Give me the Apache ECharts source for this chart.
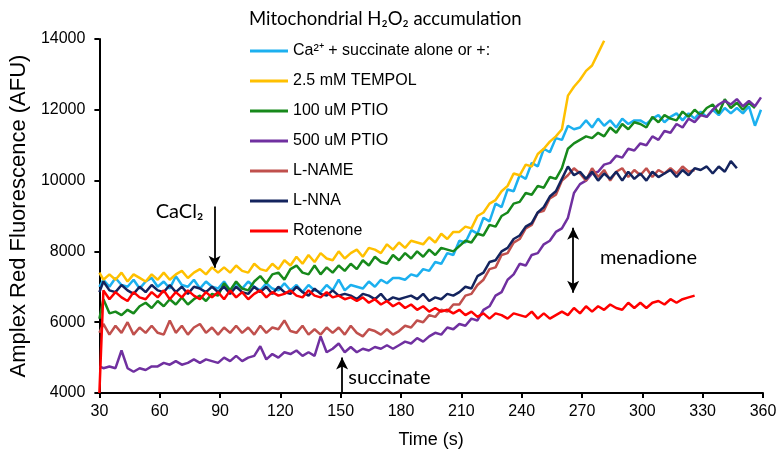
<!DOCTYPE html>
<html>
<head>
<meta charset="utf-8">
<script src="https://cdn.jsdelivr.net/npm/echarts@6.0.0/dist/echarts.min.js"></script>
<style>
  html, body { margin: 0; background: #fff; }
  #chart { width: 781px; height: 455px; }
</style>
</head>
<body>
<div id="chart"></div>
<script>
  // sampling times (s), shared by every trace
  const time = [
    30, 32, 35, 38, 41, 44, 47, 50, 53, 56,
    59, 62, 65, 68, 71, 74, 77, 80, 83, 86,
    89, 92, 95, 98, 101, 104, 107, 110, 113, 116,
    119, 122, 125, 128, 131, 134, 137, 140, 143, 146,
    149, 152, 155, 158, 161, 164, 167, 170, 173, 176,
    179, 182, 185, 188, 191, 194, 197, 200, 203, 206,
    209, 212, 215, 218, 221, 224, 227, 230, 233, 236,
    239, 242, 245, 248, 251, 254, 257, 260, 263, 266,
    269, 272, 275, 278, 281, 284, 287, 290, 293, 296,
    299, 302, 305, 308, 311, 314, 317, 320, 323, 326,
    329, 332, 335, 338, 341, 344, 347, 350, 353, 356,
    359
  ]

  // Amplex Red fluorescence (AFU)
  const caSuccinate = [
    7000, 7200, 7000, 7250, 7050, 7000, 7200, 6950, 7150, 7250,
    7000, 7150, 6950, 7300, 7050, 7000, 7200, 6950, 7150, 7000,
    6950, 7150, 6900, 7100, 6950, 7150, 7000, 6900, 7100, 6950,
    6900, 7100, 6900, 7050, 6850, 7050, 6900, 6850, 7050, 6900,
    7200, 6900, 7050, 7000, 6950, 7150, 7000, 7200, 7100, 7250,
    7250, 7200, 7350, 7300, 7500, 7450, 7700, 7650, 7950, 7900,
    8300, 8250, 8600, 8500, 8950, 8850, 9350, 9250, 9750, 9700,
    10150, 10050, 10500, 10400, 10900, 10800, 11200, 11150, 11550, 11450,
    11500, 11700, 11500, 11750, 11550, 11700, 11500, 11750, 11600, 11700,
    11700, 11600, 11750, 11850, 11650, 11800, 11900, 11700, 11900, 11750,
    11950, 11800, 12000, 11850, 12050, 11900, 12050, 11900, 12100, 11550,
    12000
  ]
  const tempol = [
    7400, 7200, 7350, 7200, 7400, 7150, 7350, 7250, 7150, 7350,
    7200, 7400, 7200, 7350, 7450, 7250, 7400, 7500, 7350, 7550,
    7400, 7550, 7400, 7600, 7450, 7400, 7650, 7500, 7450, 7650,
    7500, 7750, 7600, 7850, 7650, 7900, 7700, 7950, 7800, 7750,
    8000, 7800, 7950, 8050, 7850, 8100, 8050, 7950, 8200, 8050,
    8250, 8100, 8300, 8250, 8200, 8400, 8250, 8500, 8350, 8550,
    8550, 8700, 8650, 9000, 9100, 9350, 9450, 9700, 9850, 10200,
    10150, 10450, 10400, 10750, 10900, 11100, 11250, 11450, 12400, 12650,
    12850, 13100, 13250, 13600, 13950
  ]
  const ptio100 = [
    6100, 6650, 6250, 6300, 6200, 6350, 6250, 6450, 6550, 6400,
    6600, 6450, 6650, 6500, 6700, 6500, 6650, 6750, 6600, 6800,
    6750, 7100, 6900, 7150, 6950, 6900, 7150, 7300, 7100, 7350,
    7400, 7200, 7500, 7600, 7400, 7350, 7600, 7350, 7550, 7400,
    7600, 7450, 7650, 7500, 7750, 7600, 7850, 7700, 7650, 7900,
    7750, 7950, 7800, 8000, 7850, 8050, 7900, 8100, 8050, 8000,
    8150, 8300, 8250, 8500, 8450, 8750, 8700, 9000, 9100, 9350,
    9400, 9650, 9600, 9850, 9800, 10100, 10050, 10350, 10900, 11050,
    11150, 11250, 11200, 11350, 11250, 11500, 11350, 11600, 11450, 11650,
    11600, 11500, 11800, 11650, 11850, 11750, 11700, 11950, 11800, 12000,
    11850, 12050, 12150, 11900, 12300, 12050, 12200, 12000, 12200, 12050
  ]
  const ptio500 = [
    4750, 4700, 4750, 4700, 5200, 4700, 4600, 4700, 4650, 4750,
    4750, 4850, 4800, 4900, 4800, 4850, 4950, 4850, 4950, 4900,
    4850, 5000, 4900, 5050, 4900, 5000, 5050, 5320, 4950, 5100,
    5000, 5150, 5100, 5200, 5050, 5150, 5050, 5600, 5150, 5250,
    5400, 5150, 5300, 5150, 5250, 5200, 5300, 5250, 5350, 5250,
    5350, 5450, 5400, 5550, 5450, 5600, 5700, 5650, 5850, 5800,
    5950, 5900, 6100, 6050, 6350, 6450, 6750, 6850, 7200, 7350,
    7650, 7600, 7900, 7950, 8200, 8300, 8550, 8650, 8950, 9650,
    9900, 10000, 10200, 10250, 10450, 10500, 10700, 10650, 10900, 10850,
    11050, 11000, 11250, 11150, 11400, 11350, 11600, 11500, 11750, 11650,
    11850, 11800, 12000, 12150, 12250, 12150, 12300, 12100, 12250, 12100,
    12350
  ]
  const lName = [
    5700, 5950, 5650, 5900, 5700, 6000, 5650, 5850, 5700, 5900,
    5700, 5650, 6050, 5700, 5900, 5650, 5850, 5950, 5700, 5850,
    5650, 5850, 5700, 5900, 5700, 5850, 5650, 5900, 5700, 5850,
    5800, 6050, 5750, 5700, 5900, 5650, 5800, 5650, 5850, 5700,
    5850, 5650, 5900, 5700, 5600, 5800, 5750, 5650, 5800, 5650,
    5750, 5900, 5850, 6050, 6000, 6200, 6150, 6350, 6300, 6500,
    6500, 6750, 6800, 7050, 7200, 7500, 7550, 7900, 7950, 8250,
    8350, 8650, 8750, 9100, 9150, 9500, 9600, 10000, 10150, 10350,
    10200, 10000, 10350, 10100, 10300, 10000, 10250, 10350, 10100, 10300,
    10150, 10350, 10100, 10300, 10200, 10350, 10200, 10400, 10250, 10300
  ]
  const lNna = [
    6850, 7150, 6900, 6850, 7050, 6900, 6800, 7000, 6850, 7050,
    6900, 6850, 7050, 6850, 7000, 6800, 7000, 6950, 6850, 7000,
    6850, 7000, 6800, 7000, 6850, 6800, 7000, 6850, 7000, 6800,
    7000, 6850, 6800, 7000, 6850, 6750, 6950, 6800, 6750, 6900,
    6750, 6800, 6750, 6650, 6800, 6750, 6650, 6800, 6600, 6700,
    6650, 6700, 6750, 6650, 6800, 6600, 6700, 6650, 6800, 6750,
    6850, 7000, 6950, 7300, 7400, 7700, 7750, 8000, 8100, 8350,
    8450, 8700, 8800, 9100, 9250, 9550, 9700, 10050, 10400, 10150,
    10250, 10050, 10250, 10000, 10200, 10050, 10250, 10000, 10250, 10050,
    10200, 10000, 10250, 10100, 10200, 10300, 10100, 10300, 10150, 10350,
    10300, 10400, 10200, 10400, 10250, 10550, 10350
  ]
  const rotenone = [
    4000, 6900, 6650, 6850, 6700, 6600, 6850, 6700, 6650, 6850,
    6700, 6900, 6650, 6850, 6700, 6900, 6750, 6650, 6850, 6700,
    6850, 6650, 6900, 6700, 6850, 6650, 6800, 6900, 6700, 6850,
    6750, 6800, 6900, 6750, 6700, 6900, 6750, 6700, 6850, 6700,
    6750, 6650, 6700, 6600, 6700, 6550, 6650, 6500, 6600, 6450,
    6550, 6400, 6500, 6350, 6450, 6300, 6400, 6300, 6350, 6250,
    6350, 6200, 6300, 6150, 6250, 6100, 6250, 6200, 6100, 6250,
    6200, 6150, 6300, 6100, 6250, 6100, 6200, 6300, 6200, 6400,
    6250, 6450, 6300, 6450, 6350, 6500, 6400, 6350, 6550, 6400,
    6550, 6400, 6550, 6600, 6500, 6650, 6550, 6650, 6700, 6750
  ]

  const seriesNames = [
    'Ca²⁺ + succinate alone or +:',
    '2.5 mM TEMPOL',
    '100 uM PTIO',
    '500 uM PTIO',
    'L-NAME',
    'L-NNA',
    'Rotenone'
  ]
  const seriesValues = [caSuccinate, tempol, ptio100, ptio500, lName, lNna, rotenone]
  const seriesColors = ['#1cb0ef', '#ffc000', '#17891b', '#7030a0', '#c0504d', '#14245e', '#ff0000']

  // axis ticks
  const xTicks = { min: 30, max: 360, step: 30 }
  const yTicks = { min: 4000, max: 14000, step: 2000 }

  // annotations (time, AFU)
  const arrowSegments = [
    [[87.3, 9270], [87.3, 7540]],
    [[150.7, 4000], [150.7, 5000]],
    [[265.6, 8670], [265.6, 6830]]
  ]
  const arrowHeads = [['none', 'arrow'], ['none', 'arrow'], ['arrow', 'arrow']]
  const noteTexts = ['CaCl₂', 'succinate', 'menadione']
  const notePositions = [[58, 9120], [153.8, 4430], [278.9, 7820]]

  const chart = echarts.init(document.getElementById('chart'))

  const lineSeries = seriesNames.map((name, k) => ({
    name,
    type: 'line',
    data: seriesValues[k].map((v, i) => [time[i], v]),
    showSymbol: false,
    symbol: 'none',
    lineStyle: { width: 2.5, color: seriesColors[k] },
    itemStyle: { color: seriesColors[k] }
  }))

  // 箭头标注
  const noteSeries = {
    name: 'notes',
    type: 'line',
    data: [],
    silent: true,
    markLine: {
      silent: true,
      animation: false,
      symbolSize: [9, 12],
      label: { show: false },
      lineStyle: { color: '#000', width: 1.8, type: 'solid' },
      data: arrowSegments.map((seg, k) => [
        { coord: seg[0], symbol: arrowHeads[k][0] },
        { coord: seg[1], symbol: arrowHeads[k][1] }
      ])
    }
  }

  const axisCommon = {
    type: 'value',
    splitLine: { show: false },
    axisLine: { show: true, lineStyle: { color: '#000', width: 2 } },
    axisTick: { show: true, length: 5, lineStyle: { color: '#000', width: 2 } },
    axisLabel: { color: '#000', fontSize: 16, fontFamily: 'Liberation Sans', formatter: v => String(v) },
    nameTextStyle: { color: '#000', fontFamily: 'Liberation Sans' }
  }

  chart.setOption({
    animation: false,
    backgroundColor: '#fff',
    title: {
      text: 'Mitochondrial H₂O₂ accumulation',
      left: 249,
      top: 10,
      padding: 0,
      textStyle: { fontFamily: 'Lato', fontSize: 18.5, fontWeight: 'normal', color: '#000' }
    },
    legend: {
      data: seriesNames,
      orient: 'vertical',
      left: 250,
      top: 43,
      padding: 0,
      itemGap: 14,
      itemWidth: 38,
      itemHeight: 3,
      icon: 'rect',
      textStyle: { fontFamily: 'Liberation Sans', fontSize: 16, color: '#000', lineHeight: 16 }
    },
    grid: { left: 99, right: 18, top: 39, bottom: 62 },
    xAxis: {
      ...axisCommon,
      min: xTicks.min,
      max: xTicks.max,
      interval: xTicks.step,
      name: 'Time (s)',
      nameLocation: 'middle',
      nameGap: 38,
      nameTextStyle: { ...axisCommon.nameTextStyle, fontSize: 18 },
      axisLabel: { ...axisCommon.axisLabel, margin: 11 }
    },
    yAxis: {
      ...axisCommon,
      min: yTicks.min,
      max: yTicks.max,
      interval: yTicks.step,
      name: 'Amplex Red Fluorescence (AFU)',
      nameLocation: 'middle',
      nameGap: 64,
      nameTextStyle: { ...axisCommon.nameTextStyle, fontSize: 22 },
      axisLabel: { ...axisCommon.axisLabel, margin: 14 }
    },
    series: [...lineSeries, noteSeries]
  })

  // 文字标注
  chart.setOption({
    graphic: noteTexts.map((text, k) => {
      const [x, y] = chart.convertToPixel({ gridIndex: 0 }, notePositions[k])
      return {
        type: 'text',
        x,
        y,
        silent: true,
        style: { text, font: '20px Lato', fill: '#000', align: 'left', verticalAlign: 'middle' }
      }
    })
  })
</script>
</body>
</html>
